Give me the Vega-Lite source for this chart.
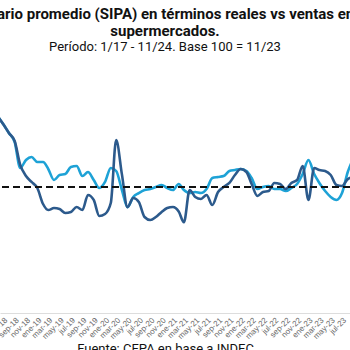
{
  "$schema": "https://vega.github.io/schema/vega-lite/v6.json",
  "autosize": {"type": "none"},
  "width": 350,
  "height": 252,
  "padding": {"left": 0, "top": 61, "right": 0, "bottom": 37},
  "background": "white",
  "title": {
    "text": ["Salario promedio (SIPA) en términos reales vs ventas en", "supermercados."],
    "subtitle": "Período: 1/17 - 11/24. Base 100 = 11/23",
    "anchor": "middle",
    "dx": -10,
    "font": "Roboto",
    "fontSize": 15,
    "fontWeight": "bold",
    "color": "#111111",
    "subtitleFont": "Roboto",
    "subtitleFontSize": 13,
    "subtitleColor": "#111111",
    "subtitlePadding": 2,
    "offset": 7
  },
  "data": {
    "values": [
      {"fecha": "2018-06-01", "ventas": 156.3, "salario": 156.3},
      {"fecha": "2018-07-01", "ventas": 150.0, "salario": 150.0},
      {"fecha": "2018-08-01", "ventas": 142.9, "salario": 142.9},
      {"fecha": "2018-09-01", "ventas": 136.5, "salario": 135.7},
      {"fecha": "2018-10-01", "ventas": 117.5, "salario": 115.1},
      {"fecha": "2018-11-01", "ventas": 108.7, "salario": 121.4},
      {"fecha": "2018-12-01", "ventas": 104.0, "salario": 123.8},
      {"fecha": "2019-01-01", "ventas": 99.2, "salario": 119.8},
      {"fecha": "2019-02-01", "ventas": 86.5, "salario": 119.8},
      {"fecha": "2019-03-01", "ventas": 81.7, "salario": 114.3},
      {"fecha": "2019-04-01", "ventas": 83.3, "salario": 105.6},
      {"fecha": "2019-05-01", "ventas": 82.5, "salario": 109.5},
      {"fecha": "2019-06-01", "ventas": 79.4, "salario": 110.3},
      {"fecha": "2019-07-01", "ventas": 80.2, "salario": 115.9},
      {"fecha": "2019-08-01", "ventas": 84.1, "salario": 116.7},
      {"fecha": "2019-09-01", "ventas": 81.7, "salario": 108.7},
      {"fecha": "2019-10-01", "ventas": 93.7, "salario": 111.9},
      {"fecha": "2019-11-01", "ventas": 89.7, "salario": 105.6},
      {"fecha": "2019-12-01", "ventas": 77.0, "salario": 99.2},
      {"fecha": "2020-01-01", "ventas": 78.6, "salario": 104.0},
      {"fecha": "2020-02-01", "ventas": 87.3, "salario": 115.1},
      {"fecha": "2020-03-01", "ventas": 137.3, "salario": 112.7},
      {"fecha": "2020-04-01", "ventas": 110.0, "salario": 97.6},
      {"fecha": "2020-05-01", "ventas": 84.0, "salario": 84.0},
      {"fecha": "2020-06-01", "ventas": 91.3, "salario": 92.1},
      {"fecha": "2020-07-01", "ventas": 88.1, "salario": 95.2},
      {"fecha": "2020-08-01", "ventas": 76.2, "salario": 97.6},
      {"fecha": "2020-09-01", "ventas": 73.8, "salario": 98.4},
      {"fecha": "2020-10-01", "ventas": 76.2, "salario": 100.0},
      {"fecha": "2020-11-01", "ventas": 80.2, "salario": 101.6},
      {"fecha": "2020-12-01", "ventas": 83.3, "salario": 99.2},
      {"fecha": "2021-01-01", "ventas": 84.1, "salario": 97.6},
      {"fecha": "2021-02-01", "ventas": 80.5, "salario": 102.4},
      {"fecha": "2021-03-01", "ventas": 72.0, "salario": 97.6},
      {"fecha": "2021-04-01", "ventas": 97.6, "salario": 95.2},
      {"fecha": "2021-05-01", "ventas": 92.1, "salario": 96.0},
      {"fecha": "2021-06-01", "ventas": 90.5, "salario": 95.2},
      {"fecha": "2021-07-01", "ventas": 93.7, "salario": 98.4},
      {"fecha": "2021-08-01", "ventas": 85.7, "salario": 107.1},
      {"fecha": "2021-09-01", "ventas": 96.0, "salario": 107.9},
      {"fecha": "2021-10-01", "ventas": 100.0, "salario": 108.7},
      {"fecha": "2021-11-01", "ventas": 103.2, "salario": 112.7},
      {"fecha": "2021-12-01", "ventas": 109.5, "salario": 113.5},
      {"fecha": "2022-01-01", "ventas": 114.3, "salario": 114.3},
      {"fecha": "2022-02-01", "ventas": 111.9, "salario": 112.7},
      {"fecha": "2022-03-01", "ventas": 102.4, "salario": 107.1},
      {"fecha": "2022-04-01", "ventas": 92.9, "salario": 98.4},
      {"fecha": "2022-05-01", "ventas": 96.0, "salario": 100.0},
      {"fecha": "2022-06-01", "ventas": 96.8, "salario": 100.8},
      {"fecha": "2022-07-01", "ventas": 103.2, "salario": 98.4},
      {"fecha": "2022-08-01", "ventas": 102.4, "salario": 98.4},
      {"fecha": "2022-09-01", "ventas": 98.4, "salario": 96.8},
      {"fecha": "2022-10-01", "ventas": 103.2, "salario": 99.2},
      {"fecha": "2022-11-01", "ventas": 105.6, "salario": 102.4},
      {"fecha": "2022-12-01", "ventas": 116.7, "salario": 110.3},
      {"fecha": "2023-01-01", "ventas": 89.7, "salario": 121.4},
      {"fecha": "2023-02-01", "ventas": 115.1, "salario": 110.3},
      {"fecha": "2023-03-01", "ventas": 113.5, "salario": 103.2},
      {"fecha": "2023-04-01", "ventas": 112.7, "salario": 96.8},
      {"fecha": "2023-05-01", "ventas": 109.5, "salario": 92.1},
      {"fecha": "2023-06-01", "ventas": 101.6, "salario": 89.7},
      {"fecha": "2023-07-01", "ventas": 100.8, "salario": 95.2},
      {"fecha": "2023-08-01", "ventas": 106.3, "salario": 111.9},
      {"fecha": "2023-09-01", "ventas": 107.9, "salario": 123.0}
    ]
  },
  "layer": [
    {
      "transform": [{"fold": ["salario", "ventas"], "as": ["serie", "valor"]}],
      "mark": {"type": "line", "strokeWidth": 2.6, "interpolate": "monotone", "clip": true},
      "encoding": {
        "x": {
          "field": "fecha",
          "type": "temporal",
          "scale": {
            "type": "utc",
            "domain": [
              {"year": 2018, "month": 6, "date": 14, "utc": true},
              {"year": 2023, "month": 8, "date": 13, "utc": true}
            ]
          },
          "axis": {
            "tickCount": {"interval": "month", "step": 2},
            "labelExpr": "['ene','feb','mar','abr','may','jun','jul','ago','sep','oct','nov','dic'][utcmonth(datum.value)] + '-' + utcFormat(datum.value, '%y')",
            "labelAngle": -45,
            "labelFont": "Liberation Sans",
            "labelFontSize": 8,
            "labelColor": "#666666",
            "labelPadding": 3,
            "labelOverlap": false,
            "labelBound": false,
            "labelFlush": false,
            "ticks": false,
            "grid": false,
            "domainColor": "#dddddd",
            "domainWidth": 1,
            "title": "Fuente: CEPA en base a INDEC",
            "titleFont": "Roboto",
            "titleFontSize": 13,
            "titleFontWeight": "normal",
            "titleColor": "#111111",
            "titleX": 165,
            "titleY": 29,
            "titleAlign": "center",
            "titleBaseline": "top"
          }
        },
        "y": {
          "field": "valor",
          "type": "quantitative",
          "scale": {"domain": [0, 200], "zero": true, "nice": false},
          "axis": null
        },
        "color": {
          "field": "serie",
          "type": "nominal",
          "scale": {"domain": ["salario", "ventas"], "range": ["#1ea2d6", "#2c5a8c"]},
          "legend": null
        }
      }
    },
    {
      "mark": {"type": "rule", "color": "#111111", "strokeWidth": 1.8, "strokeDash": [7, 4]},
      "encoding": {"y": {"datum": 100}}
    }
  ],
  "config": {"view": {"stroke": null}}
}
